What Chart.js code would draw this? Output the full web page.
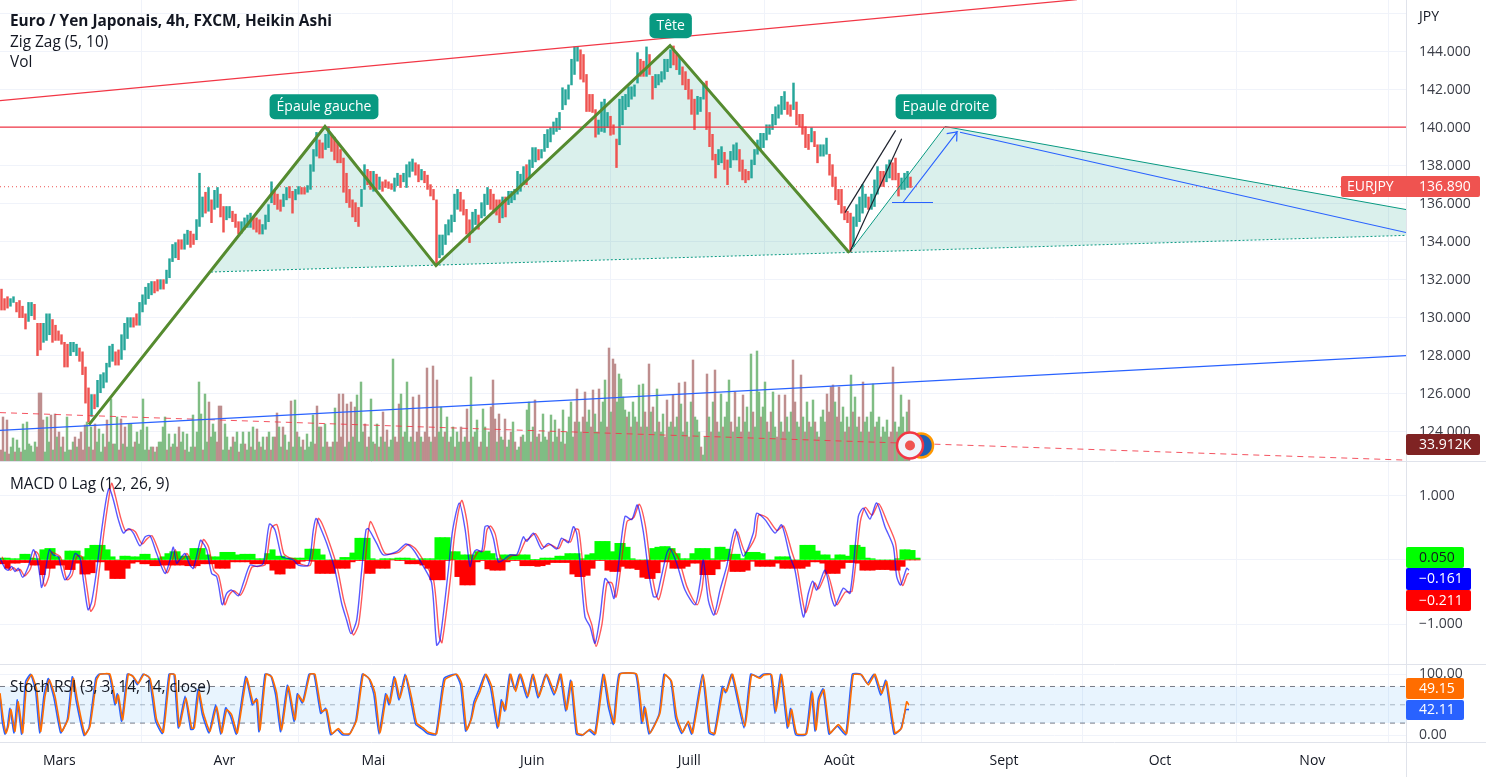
<!DOCTYPE html>
<html lang="fr">
<head>
<meta charset="utf-8">
<title>Euro / Yen Japonais</title>
<script src="https://cdn.jsdelivr.net/npm/chart.js@4"></script>
<style>
html,body{margin:0;padding:0;background:#fff;overflow:hidden}
canvas{position:absolute;left:0;display:block}
</style>
</head>
<body>
<canvas id="mainPane" width="1486" height="462" style="top:0px"></canvas>
<canvas id="macdPane" width="1486" height="203" style="top:462px"></canvas>
<canvas id="stochPane" width="1486" height="112" style="top:665px"></canvas>
<script>
const monthTicks = [178,673,1120,1597,2068,2518,3012,3480,3937];
const monthLabels = ['Mars','Avr','Mai','Juin','Juill','Août','Sept','Oct','Nov'];
const axisEnd = 4218;
const priceTicks = [146,144,142,140,138,136,134,132,130,128,126,124];
const macdTicks = [1,0,-1];
const stochTicks = [100,0];

const candleHigh = [131.5,131.0,131.1,131.0,131.1,130.8,130.9,130.6,130.2,130.8,130.8,130.7,129.7,129.7,129.7,130.2,130.2,129.9,129.6,129.3,129.1,128.7,128.6,128.7,128.7,128.6,128.4,128.2,127.4,126.3,125.95,125.95,126.7,127.0,127.1,127.6,128.5,128.6,128.2,128.3,129.1,129.7,130.0,130.0,130.0,130.2,130.8,131.2,131.6,131.8,131.9,131.9,132.0,132.0,132.0,132.5,133.1,133.85,133.95,134.1,134.1,134.4,134.6,134.55,134.4,135.16,137.6,136.35,136.6,136.85,136.2,136.7,136.85,136.5,135.85,135.85,135.85,135.6,135.45,135.05,135.05,135.25,135.4,135.5,135.3,135.25,135.15,134.9,135.4,135.95,137.15,136.65,136.5,136.2,136.5,136.85,136.9,136.65,136.75,136.9,136.85,136.85,136.95,138.05,138.85,139.75,139.35,139.2,139.65,140.05,139.65,139.5,139.2,138.85,138.4,137.6,136.75,136.2,136.05,135.8,136.75,138.05,137.8,137.7,137.7,137.55,137.4,137.15,137.25,137.15,137.05,137.35,137.6,137.5,137.6,138.05,138.2,138.35,138.15,138.05,137.8,137.7,137.5,137.0,136.75,136.2,134.35,134.35,134.9,135.15,135.4,136.5,136.75,136.6,136.2,135.7,135.15,135.55,135.7,135.4,136.05,136.5,136.85,136.75,136.5,136.2,136.2,136.35,136.35,136.65,136.65,136.75,137.7,137.55,137.95,138.05,138.3,138.95,138.95,138.85,138.85,139.65,139.9,140.0,140.3,140.5,140.8,142.1,142.0,142.25,143.6,144.25,144.25,144.1,143.85,142.8,141.75,141.75,140.95,140.4,141.35,141.5,140.8,140.6,140.15,139.4,141.5,141.65,141.75,142.15,142.15,142.25,143.95,143.6,143.5,144.25,143.85,142.7,142.8,142.8,142.95,143.6,143.6,144.1,144.3,143.85,143.7,143.2,142.95,142.55,142.0,141.5,141.65,141.6,142.35,142.45,140.8,139.65,138.6,138.85,139.0,138.7,138.3,138.75,139.1,139.2,138.85,138.3,137.8,137.7,138.3,138.85,139.35,139.7,139.7,140.15,140.15,140.7,141.1,141.2,141.65,141.9,141.35,141.2,142.35,141.35,140.7,140.7,140.05,139.65,140.0,139.8,139.1,139.1,139.1,139.45,138.6,138.05,137.4,136.75,136.75,135.85,135.6,135.5,135.3,135.95,136.35,137.0,136.5,136.35,136.5,137.25,137.95,137.7,137.7,138.05,138.3,138.15,138.4,137.6,137.35,137.6,137.7,137.4];
const candleLow = [130.4,130.4,130.5,130.6,130.8,130.3,130.0,130.0,129.4,129.8,130.1,129.9,128.0,128.3,128.7,128.8,129.1,128.7,128.8,128.8,128.6,127.4,127.4,128.0,128.2,128.0,127.7,127.0,125.5,124.5,124.8,125.2,125.3,126.05,126.3,126.6,127.4,127.7,127.5,127.5,127.8,128.3,128.9,129.5,129.5,129.6,129.6,130.3,130.7,131.0,131.2,131.3,131.4,131.5,131.5,131.8,132.1,132.95,133.15,133.05,133.6,133.6,133.85,133.7,133.85,134.1,134.8,135.3,135.5,135.6,135.0,135.7,135.8,135.3,134.5,135.15,135.25,135.05,134.75,134.4,134.45,134.65,134.75,134.75,134.65,134.5,134.4,134.4,134.65,135.05,136.05,135.95,135.7,135.6,135.85,136.2,136.3,135.5,136.2,136.5,136.5,136.5,136.6,136.75,137.7,138.5,138.4,138.4,138.85,138.95,138.75,138.3,138.15,138.15,136.6,136.05,135.8,135.3,135.05,134.8,135.85,136.75,137.0,136.75,136.65,136.75,136.75,136.65,136.85,136.8,136.75,136.65,136.95,136.85,137.15,136.85,137.4,137.7,137.5,137.15,137.25,137.1,136.75,136.4,136.2,132.75,133.15,133.3,133.85,134.35,134.5,135.05,135.7,135.6,135.4,134.4,133.95,134.5,134.9,134.65,135.25,135.35,135.95,135.7,135.5,135.4,135.0,135.25,135.3,135.95,136.05,136.2,136.5,136.65,137.0,137.0,137.35,137.9,138.2,138.3,138.4,138.75,138.95,139.25,139.65,139.8,139.9,140.95,141.2,141.5,142.25,142.8,143.5,142.55,142.4,140.85,140.85,140.8,139.5,139.65,139.8,139.75,140.0,139.6,139.65,137.9,139.1,140.15,140.95,141.1,141.5,141.65,142.35,142.7,142.7,142.7,142.8,141.5,142.1,142.25,142.4,142.55,142.95,143.15,143.3,143.05,142.8,142.25,142.0,141.5,140.7,139.9,140.7,140.85,141.5,139.9,139.0,138.3,137.35,138.05,138.15,137.8,137.0,137.9,138.3,138.3,137.7,137.25,137.1,137.25,137.35,138.05,138.6,138.85,138.95,139.35,139.65,139.9,140.15,140.5,140.7,140.95,140.7,140.6,140.95,140.15,140.05,139.65,138.95,138.85,139.25,139.0,138.15,138.5,138.5,138.6,137.5,136.9,136.2,135.95,135.5,135.15,135.0,133.45,133.75,134.8,135.05,135.5,135.8,135.7,135.7,135.85,136.5,136.9,136.9,137.15,137.35,137.25,137.25,136.4,136.75,136.75,136.85,136.85];
const candleTone = ('rrrggrrrrg'+'grrrgggrrr'+'rrrgggrrrr'+'grggggggrr'+'ggggrrgggg'+'grrgrggggr'+'rggrrgggrg'+'rggrrggrrr'+'ggggrrrggg'+'grrrggrrgg'+'rrggggrrgg'+'rrrrrrrrrr'+'ggrrgrgrrr'+'rggrggggrr'+'grrrrrgggg'+'gggrrrrggr'+'gggrrrrgrg'+'gggggrgggr'+'gggggggggg'+'gggrrrrrrg'+'gggrrrgggg'+'gggrrgrrgg'+'ggggrrgrrr'+'rrgggrrrrg'+'grrgggrrrr'+'gggggggggg'+'ggrrgrrrrr'+'grrgggrrrr'+'rrrrgggggr'+'gggrrggrrrgggr').split('');

const volumeK = [24,90,20,84,16,30,48,20,44,28,20,76,24,80,36,32,20,40,30,138,138,84,20,90,40,94,24,96,50,60,30,50,20,90,24,24,40,50,30,46,60,24,74,80,30,70,24,76,40,66,20,56,30,84,40,126,36,36,90,24,86,36,70,30,76,76,30,40,60,36,64,126,24,70,24,30,30,20,30,40,40,70,90,24,56,30,36,56,30,70,40,60,24,56,20,30,94,30,60,160,96,24,136,40,120,50,76,60,40,112,112,24,76,50,24,30,50,40,60,20,36,60,36,24,60,30,70,24,66,40,30,50,24,50,60,24,50,50,98,70,30,70,54,24,40,122,30,124,60,50,30,44,24,56,30,40,94,36,112,70,70,30,76,40,30,30,40,108,40,136,50,136,30,116,40,120,50,110,134,40,160,60,76,30,50,126,40,36,76,30,50,100,40,64,30,44,206,50,40,116,136,50,60,160,40,50,130,40,60,134,50,40,60,188,50,40,192,50,164,60,110,50,60,90,40,50,70,30,60,40,70,40,50,106,40,170,50,60,84,30,40,106,70,30,60,110,164,86,40,96,50,44,86,30,44,60,80,40,24,30,50,54,40,104,120,40,70,124,50,56,40,96,50,44,60,94,40,84,50,66,40,104,36,60,90,120,50,80,146,80,60,90,140,80,104,70,144,96,60,146,80,120,164,70,228,100,206,196,120,176,166,130,104,90,100,70,120,90,80,154,70,156,100,70,196,100,110,60,146,80,60,96,50,124,70,80,134,70,90,158,116,60,160,80,50,120,204,90,84,60,30,14,50,176,90,60,120,184,80,60,136,70,90,120,164,80,60,140,70,90,60,134,80,110,60,216,100,70,222,140,90,110,160,80,60,100,140,70,50,134,80,60,134,90,60,100,204,120,80,70,174,90,60,120,80,70,124,80,60,50,90,104,80,136,100,150,154,120,90,150,80,110,60,90,70,174,100,130,70,90,60,160,80,90,60,100,156,70,80,90,50,70,60,84,50,60,190,80,60,70,134,90,60,100,124];
const volumeTone = ('rrgrr'+'ggrgg'+'rgggg'+'gggrr'+'rrggg'+'rgrgr'+'grggg'+'rgrgr'+'rrrgr'+'grrgg'+'ggrrg'+'grggr'+'rgrgg'+'ggrgg'+'ggggr'+'grgrg'+'gggrg'+'rggrr'+'ggrgg'+'ggrgg'+'grggr'+'gggrr'+'rgggr'+'grggr'+'ggrgg'+'rggrg'+'rggrg'+'rgrrg'+'grgrg'+'rggrg'+'grggg'+'ggrrg'+'rggrr'+'grgrr'+'rrgrg'+'rgrgg'+'ggrgr'+'ggrgr'+'grgrg'+'ggrrr'+'grggg'+'grgrr'+'grrrr'+'grrrg'+'ggrgr'+'ggrgg'+'rggrr'+'grggr'+'rggrgrrrgr'+'ggrggrgrgg'+'rggggrgrgr'+'ggggrgrggr'+'ggrggggrrg'+'grrggrrggr'+'gggrrgrrgg'+'gggrgrggrg'+'rgrgrgrggr'+'ggrrggrggr'+'ggrgrgrggg'+'rggrgrgrrg'+'grgggrgrgg'+'rrggrgrggg'+'rggrgrggrr'+'grrgggrrgg'+'rgrgrggrgr'+'gggrrrrgrr'+'ggrgrgrggr'+'grggrggrgg'+'rgggrrrgrg'+'ggrgr').split('');

const macdAt = [0,15,25,35,45,55,68,85,100,110,120,125,135,148,160,175,185,195,210,225,240,250,260,265,275,290,305,320,328,340,355,370,385,400,420,435,450,470,495,510,520,530,545,555,570,580,600,603,620,635,650,665,668,680,695,715,730,750,770,790,808,825,845,860,880,895,925,940,948,960,980,1005,1025,1040,1053,1070,1085,1098,1105,1130,1150,1190,1218,1240,1270,1295,1310,1320,1345,1358,1378,1395,1410,1420,1430,1445,1455,1465,1480,1495,1510,1530,1550,1570,1580,1600,1625,1645,1670,1685,1705,1720,1730,1740,1755,1770,1785,1800,1815,1830,1842,1855,1875,1895,1912,1930,1945,1960,1970,1980,2000,2010,2030,2055,2085,2100,2110,2125,2142,2160,2180,2205,2230,2260,2270,2295,2325,2345,2370,2385,2410,2425,2438,2450,2475,2495,2505,2530,2550,2575,2590,2610,2630,2655,2680,2690,2702,2720,2727];
const macdValues = [.03,-.13,-.16,-.10,-.18,-.13,-.27,-.10,.16,.05,-.26,-.43,-.21,.16,.08,.05,-.16,-.31,-.21,.10,.03,-.31,-.68,-.78,-.65,-.16,.47,.99,1.12,.94,.63,.42,.49,.42,.22,.36,.38,.10,-.21,0,.20,-.05,.05,.10,-.08,-.13,.29,.31,.16,-.21,-.26,-.68,-.70,-.52,-.47,-.56,-.36,-.08,-.10,-.05,.56,.47,.05,.03,0,-.08,-.08,.47,.65,.52,.26,-.16,-.68,-.94,-1.15,-.94,-.16,.47,.49,.26,.08,.13,.25,.16,-.10,-.36,-1.33,-1.25,-.16,.47,.89,.49,-.10,.10,.16,.13,.52,.53,.34,-.03,0,.08,.08,.36,.29,.42,.17,.26,.17,.34,.27,.52,.42,-.05,-.89,-1.04,-1.30,-.89,-.29,-.39,-.60,-.10,.68,.63,.86,.44,-.16,-.57,-.57,-.36,.10,.18,-.05,-.47,-.70,-.36,0,-.63,-.86,-.47,-.10,.48,.06,.42,.73,.63,.42,.55,.05,-.16,-.89,-.52,-.33,-.47,-.16,-.60,-.72,-.44,-.52,.68,.81,.64,.89,.52,.21,-.26,-.39,-.13,-.161];
const signalAt = [6,21,31,41,51,61,74,91,106,116,126,134,147,154,166,181,191,201,216,231,246,256,266,272,284,296,311,326,335,346,361,376,391,406,426,441,456,476,501,516,526,536,551,561,576,586,606,611,626,641,656,671,675,686,701,721,736,756,776,796,814,831,851,866,886,901,931,946,955,966,986,1011,1031,1046,1060,1076,1091,1104,1112,1136,1156,1196,1224,1246,1276,1301,1318,1326,1351,1364,1385,1401,1416,1426,1436,1451,1461,1472,1486,1501,1516,1536,1556,1576,1586,1606,1631,1651,1676,1691,1711,1726,1736,1746,1761,1776,1788,1806,1821,1836,1848,1861,1881,1901,1918,1936,1951,1966,1976,1986,2006,2016,2036,2061,2091,2106,2116,2131,2148,2166,2186,2211,2236,2266,2276,2301,2331,2351,2376,2391,2416,2431,2444,2456,2481,2501,2511,2536,2556,2581,2596,2616,2636,2661,2686,2696,2708,2722,2727];
const signalValues = [.05,-.10,-.16,-.12,-.17,-.15,-.25,-.14,.13,.08,-.20,-.41,-.25,.12,.10,.05,-.12,-.31,-.24,.06,.05,-.26,-.62,-.80,-.70,-.24,.40,.95,1.20,1.00,.68,.46,.48,.44,.25,.33,.38,.14,-.20,-.03,.16,-.02,.03,.10,-.05,-.12,.25,.32,.20,-.16,-.25,-.63,-.70,-.56,-.48,-.55,-.40,-.11,-.10,-.07,.50,.55,.10,.04,.01,-.06,-.08,.40,.65,.57,.30,-.10,-.62,-.90,-1.17,-1.00,-.28,.40,.60,.32,.10,.12,.24,.18,-.06,-.32,-1.20,-1.29,-.30,.40,.93,.60,-.02,.06,.14,.14,.47,.53,.40,.03,-.01,.07,.08,.30,.33,.41,.20,.24,.18,.32,.28,.48,.47,.05,-.78,-1.02,-1.35,-1.00,-.36,-.36,-.58,-.18,.60,.66,.87,.54,-.06,-.50,-.62,-.44,.04,.17,.02,-.42,-.70,-.45,-.05,-.55,-.85,-.56,-.14,.44,.12,.36,.70,.66,.46,.53,.12,-.12,-.82,-.60,-.36,-.45,-.20,-.54,-.70,-.50,-.49,.60,.82,.70,.88,.60,.28,-.16,-.40,-.22,-.211];
const macdGreen = [.03,.03,.02,.02,.09,.09,.03,.02,.16,.18,.18,.05,0,.14,.14,.14,.05,.18,.23,.23,.23,.16,.05,0,.06,.06,.05,.05,.09,.09,.02,.02,.05,.10,.13,.13,.06,.06,.18,.18,.18,.08,.05,.05,.12,.12,.12,.08,.09,.09,.09,.02,.02,.10,.16,.06,.06,.03,.03,.03,.03,.17,.17,.17,.08,0,0,0,.04,.04,.11,.34,.34,.34,.02,0,.02,.02,.02,.03,.03,.03,.02,0,.02,.02,.02,.35,.35,.35,.13,.13,.08,.08,.08,.13,.13,.14,.10,.02,.08,.08,.08,.08,.08,.08,.01,.01,.03,.03,.03,.06,.06,.10,.10,.10,.02,.08,.10,.29,.29,.29,.13,.26,.26,.20,.02,0,0,0,.18,.20,.21,.21,.18,.10,.02,.02,.10,.18,.18,.18,.02,.20,.20,.17,.09,.09,.02,.12,.12,.12,.10,0,0,.05,.05,.05,0,0,.23,.23,.23,.14,.08,.08,.02,.08,.08,.06,.23,.23,.20,.03,.02,0,0,0,0,.02,.16,.16,.15,.03];
const macdRed = [-.06,-.13,-.05,-.05,-.04,-.04,-.08,-.08,-.23,-.13,-.13,-.08,-.08,-.15,-.15,-.05,-.22,-.22,-.2,-.03,-.03,-.16,-.29,-.29,-.29,-.13,-.05,-.03,-.06,-.06,-.09,-.09,-.08,-.08,-.08,-.08,-.08,-.09,-.09,-.09,-.06,-.06,-.06,-.13,-.13,-.13,-.03,-.03,-.03,-.03,-.06,-.06,-.06,-.06,-.16,-.22,-.22,-.13,-.13,-.06,-.02,-.01,-.02,-.21,-.21,-.21,-.21,-.13,-.13,-.13,-.03,-.01,-.01,-.21,-.21,-.13,-.13,-.13,0,-.01,-.01,-.06,-.06,-.06,-.08,-.13,-.31,-.31,-.31,-.01,0,-.26,-.39,-.39,-.39,-.03,-.01,-.14,-.16,-.16,-.16,-.03,-.01,-.01,-.09,-.09,-.09,-.10,-.09,-.07,-.04,-.04,-.04,-.04,-.22,-.26,-.26,-.24,-.13,-.01,-.01,-.16,-.18,-.18,-.10,-.13,-.13,-.15,-.27,-.29,-.29,-.20,-.03,-.03,-.13,-.13,-.13,-.10,-.05,-.05,-.23,-.23,-.23,-.14,-.02,-.01,-.18,-.18,-.18,-.16,-.02,-.10,-.10,-.10,-.10,-.05,-.13,-.13,-.13,-.13,-.13,-.10,-.03,-.03,-.05,-.21,-.21,-.21,-.13,-.04,-.04,-.05,-.16,-.16,-.16,-.15,-.15,-.15,-.16,-.16,-.10,0,0,0];

const stochDAt = [0,10,18,25,33,45,55,68,80,95,110,122,135,148,165,185,205,220,232,255,270,290,300,330,348,355,368,385,400,415,432,450,460,470,490,510,525,538,558,575,583,597,610,630,650,665,680,695,712,740,760,772,780,798,815,830,845,865,885,895,910,930,945,965,980,995,1015,1030,1050,1070,1090,1110,1125,1140,1160,1170,1185,1200,1218,1235,1250,1270,1285,1310,1335,1370,1385,1400,1415,1425,1440,1458,1475,1495,1507,1517,1532,1547,1562,1584,1600,1617,1640,1665,1683,1700,1715,1732,1750,1770,1787,1812,1828,1843,1860,1910,1928,1936,1950,1980,1995,2015,2030,2048,2065,2078,2110,2130,2145,2170,2180,2198,2235,2255,2280,2292,2315,2328,2345,2365,2375,2390,2420,2437,2448,2458,2472,2490,2515,2540,2560,2585,2605,2625,2645,2660,2685,2705,2720,2727];
const stochDValues = [69,25.5,3.8,14.7,42,6.5,55,3.8,85,99,74.5,6.5,63.6,91,63.6,6.5,28,93.5,58,1,14.7,91,100,100,52.7,66,25.5,100,96,85,100,93.5,63.6,25.5,5,100,99,14.7,61,12,12,72,36.4,6.5,47,3.8,42,33.7,3.8,93.5,52.7,58,9,100,96,69,9,80,25.5,66,55,100,100,39,42,2.7,11,2.7,2.7,25.5,100,91,69,3.8,66,52.7,93.5,61,98,61,20,12,5,2.7,91,100,85,9,28,52.7,72,100,80,14.7,55,42,100,72,100,63.6,100,63.6,100,69,100,42,88,3.8,1,10,2.7,99,50,20,100,100,23,44.6,3.8,36.4,99,88,31,5,23,3.8,99,6.5,2.7,77,72,100,14.7,99,93.5,99,99,39,99,14.7,42,2.7,2.7,69,9,58,74.5,3.8,17.4,2.7,99,99,82.6,100,69,88,3.8,12,55,49.15];
const stochKAt = [0,7,15,22,30,42,52,65,77,92,107,119,132,145,162,182,202,217,229,252,267,287,297,327,345,352,365,382,397,412,429,447,457,467,487,507,522,535,555,572,580,594,607,627,647,662,677,692,709,737,757,769,777,795,812,827,842,862,882,892,907,927,942,962,977,992,1012,1027,1047,1067,1087,1107,1122,1137,1157,1167,1182,1197,1215,1232,1247,1267,1282,1307,1332,1367,1382,1397,1412,1422,1437,1455,1472,1492,1504,1514,1529,1544,1559,1581,1597,1614,1637,1662,1680,1697,1712,1729,1747,1767,1784,1809,1825,1840,1857,1907,1925,1933,1947,1977,1992,2012,2027,2045,2062,2075,2107,2127,2142,2167,2177,2195,2232,2252,2277,2289,2312,2325,2342,2362,2372,2387,2417,2434,2445,2455,2469,2487,2512,2537,2557,2582,2602,2622,2642,2657,2682,2702,2717,2727];
const stochKValues = [66,22,2,13,44,4,58,2,88,100,72,4,66,93,61,4,26,96,55,0,12,93,100,100,50,68,23,100,98,83,100,95,61,23,3,100,100,12,64,10,10,75,34,4,50,2,45,31,2,96,50,60,6,100,98,66,6,82,23,68,53,100,100,36,44,1,9,1,1,23,100,93,66,2,68,50,96,58,100,58,18,10,3,1,93,100,82,7,25,55,75,100,77,12,58,40,100,75,100,61,100,61,100,66,100,40,90,2,0,8,1,100,47,18,100,100,20,47,2,34,100,90,28,3,20,2,100,4,1,80,70,100,12,100,95,100,100,36,100,12,44,1,1,72,7,60,76,2,15,1,100,100,85,100,66,90,2,10,42,42.11];
const stochBandLow = 20, stochBandHigh = 80, stochMid = 50;

const channelAt = [0,3231],           channelPrice = [141.42,146.74];
const necklineAt = [0,4218],          necklinePrice = [140.03,140.03];
const zigzagAt = [267,975,1308,2010,2548], zigzagPrice = [124.37,140.06,132.74,144.32,133.42];
const patternAt = [633,975,1308,2010,2548,2835,4218,4218], patternPrice = [132.40,140.06,132.74,144.32,133.42,140.06,135.69,134.33];
const patternEdgeAt = [2548,2835,4218], patternEdgePrice = [133.42,140.06,135.69];
const patternBaseAt = [633,4218],     patternBasePrice = [132.40,134.33];
const riseAt = [0,4218],              risePrice = [124.06,128.0];
const fallAt = [2880,4218],           fallPrice = [139.76,134.48];
const levelAt = [2676,2799],          levelPrice = [136.06,136.06];
const arrowAt = [2709,2871,2840,2871,2870], arrowPrice = [136.06,139.77,139.69,139.77,139.27];
const wedgeTopAt = [2535,2687],       wedgeTopPrice = [135.53,139.86];
const wedgeLowAt = [2550,2705],       wedgeLowPrice = [133.48,139.41];
const dashAt = [0,4218],              dashPrice = [125.0,122.5];
const lastAt = [0,4218],              lastPrice = [136.89,136.89];
const markerAt = [2730], flagAt = [2763], markerPrice = [123.27];

const labelText = ['Épaule gauche','Tête','Epaule droite'];
const labelAt = [972,2012,2838];
const labelPrice = [141.1,145.37,141.1];

const FONT = '"Open Sans", sans-serif';
const GRID = '#f0f3fa', EDGE = '#e0e3eb', TEXT = '#131722', AXIS = '#3a3d47';
const pts = (xs, ys) => xs.map((x, i) => ({x, y: ys[i]}));
const line = (xs, ys, color, width, extra) => Object.assign({
  type: 'line', data: pts(xs, ys), borderColor: color, borderWidth: width,
  pointRadius: 0, fill: false, tension: 0, order: 2, yAxisID: 'y'
}, extra || {});

function roundRect(ctx, x, y, w, h, r, fill) {
  ctx.beginPath(); ctx.roundRect(x, y, w, h, r); ctx.fillStyle = fill; ctx.fill();
}
function badge(ctx, x0, x1, top, bottom, fill, text, color, rightText) {
  roundRect(ctx, x0, top, x1 - x0, bottom - top, 2, fill);
  ctx.fillStyle = color; ctx.font = '14px ' + FONT; ctx.textAlign = 'left'; ctx.textBaseline = 'middle';
  if (rightText) { ctx.fillText(text, x0 + 6, (top + bottom) / 2 + .5); ctx.fillText(rightText, 1419, (top + bottom) / 2 + .5); }
  else ctx.fillText(text, 1419, (top + bottom) / 2 + .5);
}
function caption(ctx, text, x, y, font) {
  ctx.fillStyle = TEXT; ctx.font = font; ctx.textAlign = 'left'; ctx.textBaseline = 'middle';
  ctx.fillText(text, x, y);
}
function paneEdge(ctx, c, y) {
  ctx.strokeStyle = EDGE; ctx.lineWidth = 1; ctx.beginPath();
  ctx.moveTo(0, y); ctx.lineTo(c.width, y); ctx.stroke();
}
function noPad(a) { a.paddingTop = 0; a.paddingBottom = 0; a.paddingLeft = 0; a.paddingRight = 0; }
function xScale(showLabels) {
  return {
    type: 'linear', min: 0, max: axisEnd, offset: false,
    afterBuildTicks: a => { a.ticks = monthTicks.map(v => ({value: v})); },
    afterFit: a => { a.height = showLabels ? 35 : 0; noPad(a); },
    grid: {color: GRID, drawTicks: false, lineWidth: 1},
    border: {display: false},
    ticks: {display: showLabels, autoSkip: false, maxRotation: 0, padding: 11, color: TEXT,
      font: {family: FONT, size: 14},
      callback: v => monthLabels[monthTicks.indexOf(v)] }
  };
}
function yScale(min, max, ticks, fmt) {
  return {
    position: 'right', min, max,
    afterBuildTicks: a => { a.ticks = ticks.map(v => ({value: v})); },
    afterFit: a => { a.width = 80; noPad(a); },
    grid: {color: GRID, drawTicks: false, lineWidth: 1},
    border: {display: true, color: EDGE},
    ticks: {padding: 13, color: AXIS, font: {family: FONT, size: 14}, callback: fmt}
  };
}
const baseOptions = {
  responsive: false, animation: false, devicePixelRatio: 1,
  layout: {padding: 0, autoPadding: false},
  plugins: {legend: {display: false}, tooltip: {enabled: false}, title: {display: false}},
  elements: {line: {borderCapStyle: 'butt'}}
};

new Chart(document.getElementById('mainPane'), {
  type: 'bar',
  data: {datasets: [
    line(patternAt, patternPrice, 'rgba(0,0,0,0)', 0, {fill: 'shape', backgroundColor: 'rgba(8,153,129,.15)', order: 12}),
    line(lastAt, lastPrice, '#ef5350', 1, {borderDash: [1, 3], order: 10}),
    {type: 'bar', yAxisID: 'vol', order: 9, grouped: false, barThickness: 1.8,
     data: volumeK.map((v, i) => ({x: i * 6 + 3, y: v})),
     backgroundColor: volumeTone.map(t => t === 'g' ? '#80bd84' : '#be8e8e')},
    {type: 'bar', yAxisID: 'y', order: 7, grouped: false, barThickness: 1.8,
     data: candleHigh.map((h, i) => ({x: i * 9 + 4.5, y: [candleLow[i], h]})),
     backgroundColor: candleTone.map(t => t === 'g' ? '#26a69a' : '#ef5350')},
    line(patternBaseAt, patternBasePrice, '#089981', 1, {borderDash: [2, 2], order: 6}),
    line(patternEdgeAt, patternEdgePrice, '#089981', 1, {order: 6}),
    line(channelAt, channelPrice, '#f23645', 1.2),
    line(necklineAt, necklinePrice, '#f23645', 1.2),
    line(riseAt, risePrice, '#2962ff', 1.2),
    line(fallAt, fallPrice, '#2962ff', 1.2),
    line(levelAt, levelPrice, '#2962ff', 1.2),
    line(arrowAt, arrowPrice, '#2962ff', 1.2),
    line(dashAt, dashPrice, 'rgba(242,54,69,.85)', 1, {borderDash: [6, 5]}),
    line(wedgeTopAt, wedgeTopPrice, '#1e222d', 1.2),
    line(wedgeLowAt, wedgeLowPrice, '#1e222d', 1.2),
    line(zigzagAt, zigzagPrice, '#558b2f', 3, {order: 1, borderJoinStyle: 'miter'}),
    {type: 'line', order: 0, showLine: false, data: pts(flagAt, markerPrice), yAxisID: 'y',
     pointRadius: 12, pointBackgroundColor: '#1f5fb4', pointBorderColor: '#ff9800', pointBorderWidth: 2.5},
    {type: 'line', order: -1, showLine: false, data: pts(markerAt, markerPrice), yAxisID: 'y',
     pointRadius: 13, pointBackgroundColor: '#f0f3fa', pointBorderColor: '#f23645', pointBorderWidth: 2.5},
    {type: 'line', order: -2, showLine: false, data: pts(markerAt, markerPrice), yAxisID: 'y',
     pointRadius: 5, pointBackgroundColor: '#ef5350', pointBorderWidth: 0}
  ]},
  options: Object.assign({}, baseOptions, {
    scales: {
      x: xScale(false),
      y: yScale(122.40, 146.72, priceTicks, v => v === 146 ? '' : v.toFixed(3)),
      vol: {display: false, min: 0, max: 924, position: 'left'}
    }
  }),
  plugins: [{id: 'mainDecor', afterDraw(c) {
    const ctx = c.ctx, xs = c.scales.x, ys = c.scales.y;
    paneEdge(ctx, c, 461.5);
    caption(ctx, 'Euro / Yen Japonais, 4h, FXCM, Heikin Ashi', 10, 22, 'bold 15.4px ' + FONT);
    caption(ctx, 'Zig Zag (5, 10)', 10, 42.5, '15.4px ' + FONT);
    caption(ctx, 'Vol', 10, 63, '15.4px ' + FONT);
    caption(ctx, 'JPY', 1419, 17, '14px ' + FONT);
    labelText.forEach((t, i) => {
      const cx = xs.getPixelForValue(labelAt[i]), cy = ys.getPixelForValue(labelPrice[i]);
      ctx.font = '14px ' + FONT;
      const w = ctx.measureText(t).width + 14;
      roundRect(ctx, cx - w / 2, cy - 12.5, w, 25, 5, '#089981');
      ctx.fillStyle = '#fff'; ctx.textAlign = 'center'; ctx.textBaseline = 'middle';
      ctx.fillText(t, cx, cy + .5);
    });
    badge(ctx, 1341, 1480, 176, 197, '#ef5350', 'EURJPY', '#fff', '136.890');
    badge(ctx, 1406, 1480, 434, 455, '#7f2323', '33.912K', '#fff');
  }}]
});

new Chart(document.getElementById('macdPane'), {
  type: 'bar',
  data: {datasets: [
    {type: 'bar', order: 5, grouped: false, barThickness: 5.4,
     data: macdGreen.map((v, i) => ({x: i * 15 + 7.5, y: v})), backgroundColor: '#00ff00'},
    {type: 'bar', order: 4, grouped: false, barThickness: 5.4,
     data: macdRed.map((v, i) => ({x: i * 15 + 7.5, y: v})), backgroundColor: '#ff0000'},
    line(signalAt, signalValues, 'rgba(255,0,0,.65)', 1.4, {tension: .25, order: 2}),
    line(macdAt, macdValues, 'rgba(0,0,255,.65)', 1.4, {tension: .25, order: 1})
  ]},
  options: Object.assign({}, baseOptions, {
    scales: {
      x: xScale(false),
      y: yScale(-1.64, 1.53, macdTicks, v => v === 0 ? '' : v.toFixed(3).replace('-', '−'))
    }
  }),
  plugins: [{id: 'macdDecor', afterDraw(c) {
    const ctx = c.ctx;
    paneEdge(ctx, c, 202.5);
    caption(ctx, 'MACD 0 Lag (12, 26, 9)', 10, 22.5, '15.4px ' + FONT);
    badge(ctx, 1406, 1464, 85, 106, '#00ff00', '0.050', TEXT);
    badge(ctx, 1406, 1471, 106, 128, '#0000ff', '−0.161', '#fff');
    badge(ctx, 1406, 1471, 128, 149, '#ff0000', '−0.211', '#fff');
  }}]
});

new Chart(document.getElementById('stochPane'), {
  type: 'bar',
  data: {datasets: [
    line([0, axisEnd], [stochBandHigh, stochBandHigh], '#787b86', 1, {borderDash: [5, 5], order: 6,
      fill: '+1', backgroundColor: 'rgba(33,150,243,.1)'}),
    line([0, axisEnd], [stochBandLow, stochBandLow], '#787b86', 1, {borderDash: [5, 5], order: 6}),
    line([0, axisEnd], [stochMid, stochMid], 'rgba(120,123,134,.55)', 1, {borderDash: [5, 5], order: 6}),
    line(stochKAt, stochKValues, '#2962ff', 1.6, {tension: .15, order: 3}),
    line(stochDAt, stochDValues, '#ff6d00', 1.6, {tension: .15, order: 2})
  ]},
  options: Object.assign({}, baseOptions, {
    scales: {
      x: xScale(true),
      y: yScale(-11, 115.2, stochTicks, v => v.toFixed(2))
    }
  }),
  plugins: [{id: 'stochDecor', afterDraw(c) {
    const ctx = c.ctx, a = c.chartArea;
    paneEdge(ctx, c, a.bottom + .5);
    ctx.strokeStyle = EDGE; ctx.beginPath();
    ctx.moveTo(a.right + .5, a.bottom); ctx.lineTo(a.right + .5, c.height); ctx.stroke();
    caption(ctx, 'Stoch RSI (3, 3, 14, 14, close)', 10, 22.5, '15.4px ' + FONT);
    badge(ctx, 1406, 1464, 13, 34, '#ff6d00', '49.15', '#fff');
    badge(ctx, 1406, 1464, 35, 55, '#2962ff', '42.11', '#fff');
  }}]
});
</script>
</body>
</html>
